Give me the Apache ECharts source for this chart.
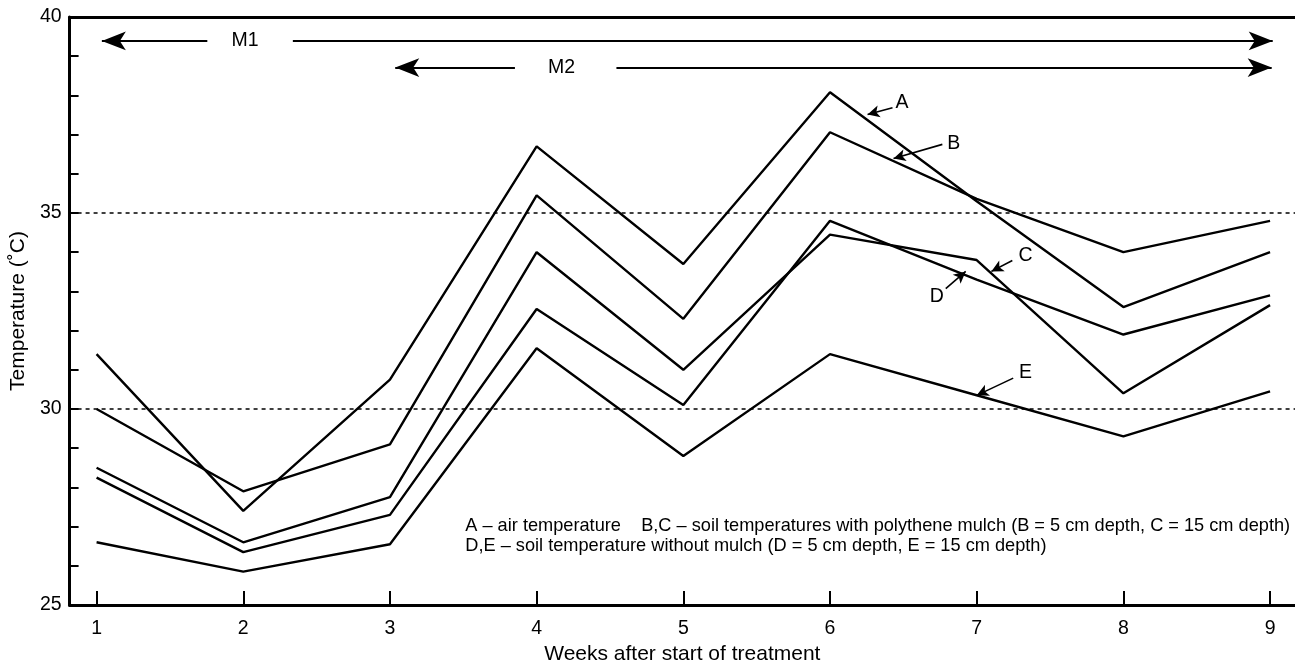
<!DOCTYPE html>
<html><head><meta charset="utf-8">
<script src="https://cdn.jsdelivr.net/npm/echarts@6/dist/echarts.min.js"></script>
<style>html,body{margin:0;padding:0;background:#fff}#c{width:1295px;height:670px}</style>
</head><body><div id="c"></div>
<script>
// ---- data ----
const weeks = [1, 2, 3, 4, 5, 6, 7, 8, 9];
const seriesA = [31.4, 27.4, 30.75, 36.7, 33.7, 38.08, 35.3, 32.6, 34.0];   // air temperature
const seriesB = [30.0, 27.9, 29.1, 35.45, 32.3, 37.06, 35.36, 34.0, 34.8];  // mulch 5 cm
const seriesC = [28.5, 26.6, 27.75, 34.0, 31.0, 34.45, 33.8, 30.4, 32.65];  // mulch 15 cm
const seriesD = [28.25, 26.35, 27.3, 32.55, 30.1, 34.8, 33.3, 31.9, 32.9];  // no mulch 5 cm
const seriesE = [26.6, 25.85, 26.55, 31.55, 28.8, 31.4, 30.35, 29.3, 30.45]; // no mulch 15 cm
const yLabelValues = [25, 30, 35, 40];
const refLines = [30, 35];
const periodNames = ['M1', 'M2'];
const periodY = [39.39, 38.71];
const periodLeftSeg = [[1.036, 1.755], [3.036, 3.852]];
const periodRightSeg = [[2.338, 9.018], [4.544, 9.011]];
const periodLabelX = [2.012, 4.170];
const curveNames = ['A', 'B', 'C', 'D', 'E'];
const curveLabelPos = [[6.49, 37.82], [6.844, 36.78], [7.333, 33.91], [6.728, 32.87], [7.333, 30.94]];
const curveArrowFrom = [[6.426, 37.683], [6.766, 36.751], [7.243, 33.789], [6.789, 33.071], [7.249, 30.787]];
const curveArrowTo = [[6.256, 37.513], [6.433, 36.388], [7.100, 33.510], [6.925, 33.510], [7.000, 30.348]];
const noteLines = [
  'A \u2013 air temperature    B,C \u2013 soil temperatures with polythene mulch (B = 5 cm depth, C = 15 cm depth)',
  'D,E \u2013 soil temperature without mulch (D = 5 cm depth, E = 15 cm depth)'
];
const notePos = [3.51, 26.76];

// ---- chart ----
const FONT = "'Liberation Sans', Arial, Helvetica, sans-serif";
const chart = echarts.init(document.getElementById('c'), null, {renderer: 'canvas'});
const xMin = 0.816, xMax = 9.17;

function lineSeries(name, vals) {
  return {
    name, type: 'line', data: weeks.map((w, i) => [w, vals[i]]),
    symbol: 'none', lineStyle: {color: '#000', width: 2.4}, z: 3,
    animation: false
  };
}

const arrowLines = [];
periodNames.forEach((n, i) => {
  arrowLines.push([
    {coord: [periodLeftSeg[i][0], periodY[i]], symbol: 'arrow', symbolSize: [14, 24]},
    {coord: [periodLeftSeg[i][1], periodY[i]], symbol: 'none'}
  ]);
  arrowLines.push([
    {coord: [periodRightSeg[i][0], periodY[i]], symbol: 'none'},
    {coord: [periodRightSeg[i][1], periodY[i]], symbol: 'arrow', symbolSize: [14, 24]}
  ]);
});
curveNames.forEach((n, i) => {
  arrowLines.push([
    {coord: curveArrowFrom[i], symbol: 'none', lineStyle: {width: 1.6}},
    {coord: curveArrowTo[i], symbol: 'arrow', symbolSize: [9, 12]}
  ]);
});

const textPoints = [];
periodNames.forEach((n, i) => textPoints.push({value: [periodLabelX[i], periodY[i]], label: {formatter: n}}));
curveNames.forEach((n, i) => textPoints.push({value: curveLabelPos[i], label: {formatter: n}}));
textPoints.push({
  value: notePos,
  label: {formatter: noteLines.join('\n'), position: 'right', distance: 0, align: 'left',
          fontSize: 18.2, lineHeight: 20}
});

const option = {
  backgroundColor: '#fff',
  animation: false,
  grid: {left: 67, right: 0, top: 17, bottom: 62, containLabel: false},
  xAxis: [{
    type: 'value', min: xMin, max: xMax,
    name: 'Weeks after start of treatment', nameLocation: 'middle', nameGap: 39,
    nameTextStyle: {fontFamily: FONT, fontSize: 21, color: '#000'},
    axisLine: {show: true, lineStyle: {color: '#000', width: 3}},
    axisTick: {show: true, inside: true, length: 14, customValues: weeks, lineStyle: {color: '#000', width: 2}},
    axisLabel: {show: true, customValues: weeks, margin: 14, fontFamily: FONT, fontSize: 19.5, color: '#000'},
    splitLine: {show: false}
  }, {
    type: 'value', min: xMin, max: xMax, position: 'top',
    axisLine: {show: true, lineStyle: {color: '#000', width: 3}},
    axisTick: {show: false}, axisLabel: {show: false}, splitLine: {show: false}
  }],
  yAxis: {
    type: 'value', min: 25, max: 40, interval: 1,
    name: 'Temperature (\u02DAC)', nameLocation: 'middle', nameGap: 37, nameRotate: 90,
    nameTextStyle: {fontFamily: FONT, fontSize: 21, color: '#000'},
    axisLine: {show: true, lineStyle: {color: '#000', width: 3}},
    axisTick: {show: true, inside: true, length: 9, lineStyle: {color: '#000', width: 2}},
    axisLabel: {
      margin: 8, fontFamily: FONT, fontSize: 19.5, color: '#000',
      formatter: v => yLabelValues.indexOf(v) >= 0 ? String(v) : ''
    },
    splitLine: {show: false}
  },
  series: [
    lineSeries('A', seriesA),
    lineSeries('B', seriesB),
    lineSeries('C', seriesC),
    lineSeries('D', seriesD),
    lineSeries('E', seriesE),
    {
      name: 'ref', type: 'line', data: [], symbol: 'none',
      markLine: {
        silent: true, animation: false, symbol: ['none', 'none'], label: {show: false},
        lineStyle: {color: '#000', width: 1.6, type: [4, 4]},
        data: refLines.map(v => ({yAxis: v}))
      }
    },
    {
      name: 'annot', type: 'scatter', data: textPoints, symbolSize: 1,
      itemStyle: {color: 'rgba(0,0,0,0)'}, z: 5,
      label: {show: true, position: 'inside', align: 'center', verticalAlign: 'middle',
              fontFamily: FONT, fontSize: 19.5, color: '#000', textBorderWidth: 0, opacity: 1},
      markLine: {
        silent: true, animation: false, symbol: ['none', 'none'], label: {show: false},
        lineStyle: {color: '#000', width: 2, type: 'solid'},
        data: arrowLines
      }
    }
  ]
};
chart.setOption(option);
</script>
</body></html>
